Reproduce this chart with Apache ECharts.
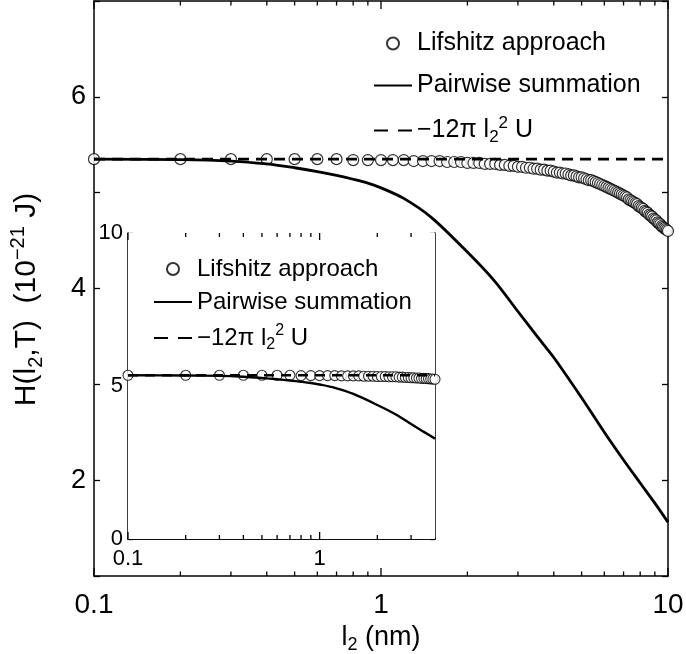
<!DOCTYPE html>
<html>
<head>
<meta charset="utf-8">
<script src="https://cdn.jsdelivr.net/npm/echarts@6/dist/echarts.min.js"></script>
<style>html,body{margin:0;padding:0;background:#fff}#c{width:686px;height:654px}</style>
</head>
<body>
<div id="c"></div>
<script>
// ---- data ----
const lifX = [0.1,0.2,0.3,0.4,0.5,0.6,0.7,0.8,0.9,1.0,
  1.1,1.2,1.3,1.4,1.5,1.6,1.7,1.8,1.9,2.0,
  2.1,2.2,2.3,2.4,2.5,2.6,2.7,2.8,2.9,3.0,
  3.1,3.2,3.3,3.4,3.5,3.6,3.7,3.8,3.9,4.0,
  4.1,4.2,4.3,4.4,4.5,4.6,4.7,4.8,4.9,5.0,
  5.1,5.2,5.3,5.4,5.5,5.6,5.7,5.8,5.9,6.0,
  6.1,6.2,6.3,6.4,6.5,6.6,6.7,6.8,6.9,7.0,
  7.1,7.2,7.3,7.4,7.5,7.6,7.7,7.8,7.9,8.0,
  8.1,8.2,8.3,8.4,8.5,8.6,8.7,8.8,8.9,9.0,
  9.1,9.2,9.3,9.4,9.5,9.6,9.7,9.8,9.9,10.0];
const lifY = [5.35,5.35,5.35,5.35,5.35,5.35,5.35,5.34,5.34,5.34,
  5.34,5.34,5.33,5.33,5.33,5.33,5.32,5.32,5.32,5.31,
  5.31,5.31,5.30,5.30,5.30,5.29,5.29,5.28,5.28,5.27,
  5.27,5.26,5.26,5.25,5.25,5.24,5.24,5.23,5.23,5.22,
  5.21,5.21,5.20,5.20,5.19,5.18,5.18,5.17,5.16,5.16,
  5.15,5.14,5.13,5.13,5.12,5.11,5.10,5.09,5.08,5.07,
  5.06,5.05,5.04,5.03,5.02,5.01,5.00,4.99,4.98,4.97,
  4.96,4.95,4.93,4.92,4.91,4.90,4.89,4.88,4.86,4.85,
  4.84,4.83,4.81,4.80,4.79,4.77,4.76,4.75,4.73,4.72,
  4.71,4.69,4.68,4.67,4.65,4.64,4.63,4.62,4.61,4.60];
const pairX = [0.1,0.2,0.3,0.4,0.5,0.6,0.7,0.8,0.9,1.0,1.2,1.5,2.0,2.5,3.0,3.5,4.0,5.0,6.0,7.0,8.0,9.0,10.0];
const pairY = [5.35,5.345,5.33,5.30,5.26,5.22,5.18,5.14,5.10,5.05,4.94,4.74,4.38,4.07,3.76,3.50,3.28,2.86,2.50,2.21,1.97,1.76,1.56];
const dashX = [0.1, 10];
const dashY = [5.35, 5.35];
const insetMaxX = 4;

const mainXMajor = [0.1, 1, 10];
const mainXMinor = [0.2,0.3,0.4,0.5,0.6,0.7,0.8,0.9,2,3,4,5,6,7,8,9];
const mainYLabels = [2, 4, 6];
const insetXMajor = [0.1, 1];
const insetXMinor = [0.2,0.3,0.4,0.5,0.6,0.7,0.8,0.9,2,3];

const NAMES = ['Lifshitz approach', 'Pairwise summation', 'Bulk'];
// ---------------------------------------

const FONT = '"Liberation Sans", Arial, sans-serif';
const zip = (xs, ys) => xs.map((x, i) => [x, ys[i]]);
const lifData = zip(lifX, lifY);
const pairData = zip(pairX, pairY);
const dashData = zip(dashX, dashY);
const inset = d => d.filter(p => p[0] <= insetMaxX + 1e-9);
const dashInset = [[dashX[0], dashY[0]], [insetMaxX, dashY[1]]];

function rich(fs) {
  const sub = Math.round(fs * 0.66);
  return {
    t: { fontSize: fs, fontFamily: FONT, color: '#000', lineHeight: Math.round(fs * 1.25), verticalAlign: 'middle' },
    s: { fontSize: sub, fontFamily: FONT, color: '#000', lineHeight: sub, verticalAlign: 'bottom' },
    p: { fontSize: sub, fontFamily: FONT, color: '#000', lineHeight: sub, verticalAlign: 'top' }
  };
}
function legendFmt(name) {
  if (name === NAMES[2]) return '{t|\u221212\u03c0 l}{s|2}{p|2}{t| U}';
  return '{t|' + name + '}';
}
const legendData = [
  NAMES[0],
  { name: NAMES[1], itemStyle: { opacity: 0 } },
  { name: NAMES[2], itemStyle: { opacity: 0 }, lineStyle: { type: [14, 10] } }
];

const black = '#000';
function xAx(grid, pos, max, labels, fs, margin) {
  return {
    gridIndex: grid, type: 'log', logBase: 10, min: 0.1, max: max, position: pos,
    axisLine: { show: true, lineStyle: { color: black, width: 1.5 } },
    axisTick: { show: false },
    axisLabel: labels ? { show: true, customValues: labels, fontSize: fs, fontFamily: FONT, color: black, margin: margin,
      formatter: v => String(v) } : { show: false },
    splitLine: { show: false }, minorTick: { show: false }
  };
}
function yAx(grid, pos, min, max, interval, len, labelOpt) {
  return {
    gridIndex: grid, type: 'value', min: min, max: max, interval: interval, position: pos,
    axisLine: { show: true, lineStyle: { color: black, width: 1.5 } },
    axisTick: { show: true, inside: true, length: len, lineStyle: { color: black, width: 1.3 } },
    axisLabel: labelOpt || { show: false },
    splitLine: { show: false }
  };
}
// tick marks on the log x-axes, placed through the axis scale
function tickSeries(xIdx, yIdx, ticks, len, yMin, yMax) {
  return {
    type: 'custom', xAxisIndex: xIdx, yAxisIndex: yIdx, silent: true, z: 9, clip: false,
    data: ticks.map(v => [v, yMin]),
    encode: { x: 0, y: 1 },
    renderItem: function (params, api) {
      const x = api.value(0);
      const b = api.coord([x, yMin]);
      const t = api.coord([x, yMax]);
      const st = { stroke: black, lineWidth: 1.3 };
      return { type: 'group', children: [
        { type: 'line', shape: { x1: b[0], y1: b[1], x2: b[0], y2: b[1] - len }, style: st },
        { type: 'line', shape: { x1: t[0], y1: t[1], x2: t[0], y2: t[1] + len }, style: st }
      ] };
    }
  };
}

const option = {
  animation: false,
  backgroundColor: '#fff',
  grid: [
    { left: 94, right: 18, top: 1, bottom: 78, outerBoundsMode: 'none', containLabel: false },
    { left: 128, right: 251, top: 233, bottom: 115, outerBoundsMode: 'none', containLabel: false,
      show: true, backgroundColor: '#fff', borderWidth: 0, z: 5 }
  ],
  legend: [
    { data: legendData, orient: 'vertical', left: 368, top: 26, itemWidth: 38, itemHeight: 12, itemGap: 17,
      formatter: legendFmt, textStyle: { rich: rich(25) }, z: 10 },
    { data: legendData, orient: 'vertical', left: 148, top: 252, itemWidth: 38, itemHeight: 12, itemGap: 9,
      formatter: legendFmt, textStyle: { rich: rich(24) }, z: 10 }
  ],
  xAxis: [
    Object.assign(xAx(0, 'bottom', 10, mainXMajor, 28, 15), {
      name: '{t|l}{s|2}{t| (nm)}', nameLocation: 'middle', nameGap: 40,
      nameTextStyle: { rich: rich(27) }
    }),
    xAx(0, 'top', 10, null),
    xAx(1, 'bottom', insetMaxX, insetXMajor, 22, 9),
    xAx(1, 'top', insetMaxX, null)
  ],
  yAxis: [
    Object.assign(yAx(0, 'left', 1, 7, 1, 6,
      { show: true, customValues: mainYLabels, fontSize: 27, fontFamily: FONT, color: black, margin: 8 }), {
      name: '{t|H(l}{s|2}{t|,T)  (10}{p|\u221221}{t| J)}', nameLocation: 'middle', nameRotate: 90, nameGap: 48,
      nameTextStyle: { rich: rich(30), padding: [0, 22, 0, 0] }
    }),
    yAx(0, 'right', 1, 7, 1, 6),
    yAx(1, 'left', 0, 10, 5, 5, { show: true, fontSize: 22, fontFamily: FONT, color: black, margin: 5 }),
    yAx(1, 'right', 0, 10, 5, 5)
  ],
  series: [
    { name: NAMES[0], type: 'scatter', xAxisIndex: 0, yAxisIndex: 0, data: lifData, symbol: 'circle', symbolSize: 11,
      itemStyle: { color: '#fff', borderColor: black, borderWidth: 1.2 }, z: 2 },
    { name: NAMES[1], type: 'line', xAxisIndex: 0, yAxisIndex: 0, data: pairData, symbol: 'none', smooth: 0.3,
      lineStyle: { color: black, width: 2.8 }, itemStyle: { color: black }, z: 3 },
    { name: NAMES[2], type: 'line', xAxisIndex: 0, yAxisIndex: 0, data: dashData, symbol: 'none',
      lineStyle: { color: black, width: 2.6, type: [11, 7] }, itemStyle: { color: black }, z: 3 },
    { name: NAMES[0], type: 'scatter', xAxisIndex: 2, yAxisIndex: 2, data: inset(lifData), symbol: 'circle', symbolSize: 10,
      itemStyle: { color: '#fff', borderColor: black, borderWidth: 1.1 }, z: 6 },
    { name: NAMES[1], type: 'line', xAxisIndex: 2, yAxisIndex: 2, data: inset(pairData), symbol: 'none', smooth: 0.3,
      lineStyle: { color: black, width: 2.4 }, itemStyle: { color: black }, z: 7 },
    { name: NAMES[2], type: 'line', xAxisIndex: 2, yAxisIndex: 2, data: dashInset, symbol: 'none',
      lineStyle: { color: black, width: 2.4, type: [10, 7] }, itemStyle: { color: black }, z: 7 },
    tickSeries(0, 0, mainXMajor, 8, 1, 7),
    tickSeries(0, 0, mainXMinor, 4.5, 1, 7),
    tickSeries(2, 2, insetXMajor, 7, 0, 10),
    tickSeries(2, 2, insetXMinor, 4, 0, 10)
  ]
};
const chart = echarts.init(document.getElementById('c'), null, { renderer: 'canvas' });
chart.setOption(option);
</script>
</body>
</html>
